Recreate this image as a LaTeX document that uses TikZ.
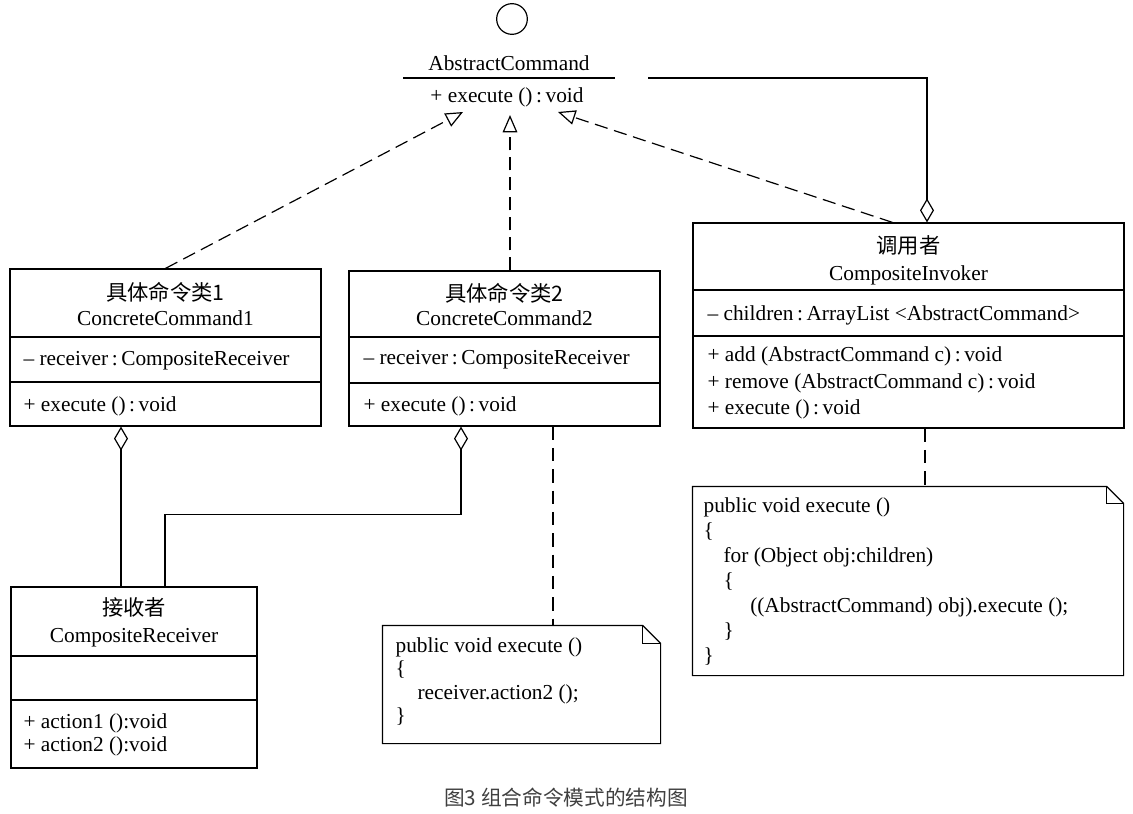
\documentclass[tikz,border=0pt]{standalone}
\usepackage{fontspec}
\setmainfont{Liberation Serif}
\newfontfamily\cjk{Noto Sans CJK SC}
\usetikzlibrary{arrows.meta, positioning, calc, fit}

\begin{document}
\begin{tikzpicture}[
  x=0.75pt, y=-0.75pt,
  line width=0.9pt,
  every node/.style={inner sep=0pt, font=\fontsize{16}{19}\selectfont},
  classbox/.style={rectangle, draw=black, inner sep=0pt},
  notearea/.style={rectangle, inner sep=0pt},
  title/.style={anchor=base},
  member/.style={anchor=base west},
  code/.style={anchor=north west, align=left},
  realize/.style={dash pattern=on 10pt off 5pt, -{Triangle[open, length=13pt, width=11pt]}},
  aggregate/.style={{Diamond[open, length=18pt, width=10.5pt]}-},
  noteline/.style={dash pattern=on 10pt off 6pt}
]
\useasboundingbox (0,0) rectangle (1133,814);

% interface
\node (iface) [circle, draw, minimum size=23pt] at (512,19) {};
\node (absname) [title] at (509,70) {AbstractCommand};
\node (absop) [title] at (507,102) {+ execute ()\,:\,void};
\draw (403,78) -- (615,78);
\coordinate (absend) at (648,78);
\coordinate (tip1) at (463,112);
\coordinate (tip2) at (510,115);
\coordinate (tip3) at (558,112);

% concrete commands
\node (cc1) [classbox, fit={(10,269) (321,426)}] {};
\draw (10,337) -- (321,337);
\draw (10,382) -- (321,382);
\node (cc1cn) [title] at (165.5,300) {\cjk 具体命令类1};
\node (cc1en) [title] at (165.5,325) {ConcreteCommand1};
\node (cc1attr) [member] at (23,365) {\textendash\ receiver\,:\,CompositeReceiver};
\node (cc1op) [member] at (23,411) {+ execute ()\,:\,void};

\node (cc2) [classbox, fit={(349,271) (660,426)}] {};
\draw (349,337) -- (660,337);
\draw (349,383) -- (660,383);
\node (cc2cn) [title] at (504.5,301) {\cjk 具体命令类2};
\node (cc2en) [title] at (504.5,325) {ConcreteCommand2};
\node (cc2attr) [member] at (363,364) {\textendash\ receiver\,:\,CompositeReceiver};
\node (cc2op) [member] at (363,411) {+ execute ()\,:\,void};

% invoker
\node (inv) [classbox, fit={(693,223) (1124,428)}] {};
\draw (693,290) -- (1124,290);
\draw (693,336) -- (1124,336);
\node (invcn) [title] at (908.5,253) {\cjk 调用者};
\node (inven) [title] at (908.5,280) {CompositeInvoker};
\node (invattr) [member] at (707,320) {\textendash\ children\,:\,ArrayList <AbstractCommand>};
\node (invadd) [member] at (707,361) {+ add (AbstractCommand c)\,:\,void};
\node (invrem) [member] at (707,388) {+ remove (AbstractCommand c)\,:\,void};
\node (invop) [member] at (707,414) {+ execute ()\,:\,void};

% receiver
\node (rcv) [classbox, fit={(11,587) (257,768)}] {};
\draw (11,656) -- (257,656);
\draw (11,700) -- (257,700);
\node (rcvcn) [title] at (134,615) {\cjk 接收者};
\node (rcven) [title] at (134,642) {CompositeReceiver};
\node (rcvop1) [member] at (23,728) {+ action1 ():void};
\node (rcvop2) [member] at (23,751) {+ action2 ():void};

% notes
\node (note1) [notearea, fit={(383,626) (660,743)}] {};
\draw (note1.north west) -- ($(note1.north east)+(-18,0)$) -- ($(note1.north east)+(0,18)$)
  -- (note1.south east) -- (note1.south west) -- cycle;
\draw ($(note1.north east)+(-18,0)$) |- ($(note1.north east)+(0,18)$);
\node (note1txt) [code, font=\fontsize{16}{17.5}\selectfont] at (395,637)
  {public void execute ()\\\{\\\hspace{16.5pt}receiver.action2 ();\\\}};

\node (note2) [notearea, fit={(693,487) (1123,675)}] {};
\draw (note2.north west) -- ($(note2.north east)+(-17,0)$) -- ($(note2.north east)+(0,17)$)
  -- (note2.south east) -- (note2.south west) -- cycle;
\draw ($(note2.north east)+(-17,0)$) |- ($(note2.north east)+(0,17)$);
\node (note2txt) [code, font=\fontsize{16}{18.75}\selectfont] at (703,497)
  {public void execute ()\\\{\\\hspace{15pt}for (Object obj:children)\\\hspace{15pt}\{\\
   \hspace{35pt}((AbstractCommand) obj).execute ();\\\hspace{15pt}\}\\\}};

% connectors
\draw [realize] (cc1.north) -- (tip1);
\draw [realize] ($(cc2.north)+(5.5,0)$) -- (tip2);
\draw [realize] ($(inv.north)+(-16,0)$) -- (tip3);
\draw [aggregate] ($(inv.north)+(18.5,0)$) |- (absend);
\draw [aggregate] ($(cc1.south)+(-44.5,0)$) -- ($(rcv.north)+(-13,0)$);
\draw [aggregate] ($(cc2.south)+(-43.5,0)$) -- ++(0,88) -| ($(rcv.north)+(31,0)$);
\draw [noteline] ($(cc2.south)+(48.5,0)$) -- ($(note1.north)+(31.5,0)$);
\draw [noteline] ($(inv.south)+(16.5,0)$) -- ($(note2.north)+(17,0)$);

% caption
\node (caption) [font=\cjk\fontsize{15.5}{18}\selectfont, text=black!75] at (566,798) {图3 组合命令模式的结构图};

\end{tikzpicture}
\end{document}
